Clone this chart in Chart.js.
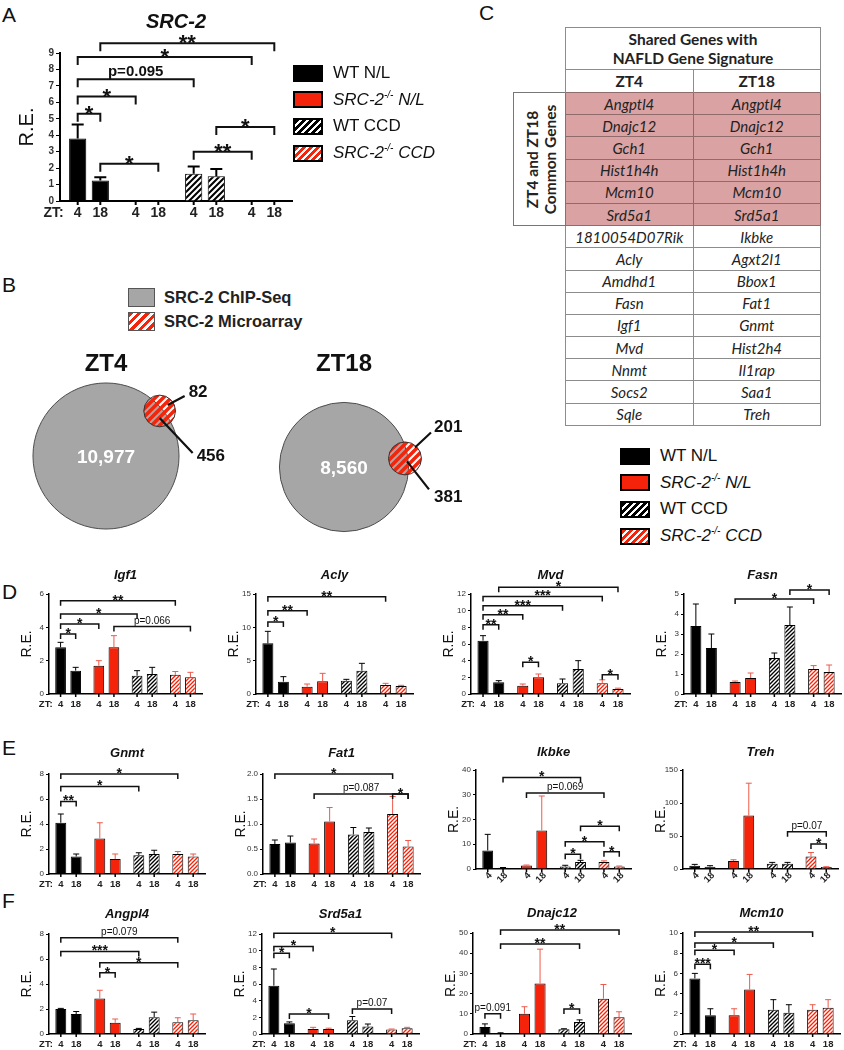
<!DOCTYPE html>
<html>
<head>
<meta charset="utf-8">
<script src="https://cdn.jsdelivr.net/npm/chart.js@4.4.1/dist/chart.umd.min.js"></script>
<style>
body { margin: 0; background: #fff; width: 844px; height: 1050px; position: relative; overflow: hidden; font-family: "Liberation Sans", Arial, sans-serif; color: #111; }
canvas { position: absolute; }
.letter { position: absolute; font-size: 21px; line-height: 1; }
.leg { position: absolute; font-size: 17px; color: #111; }
.leg .row { height: 26.6px; display: flex; align-items: center; white-space: nowrap; }
.sw { width: 26px; height: 13px; border: 2px solid #000; margin-right: 10px; flex: none; }
.leg sup { font-size: 10px; vertical-align: 7px; line-height: 0; }
#venn-leg { position: absolute; left: 128px; top: 285px; font-size: 16.5px; font-weight: bold; color: #222; }
#venn-leg .row { height: 24px; display: flex; align-items: center; }
#venn-leg .sw { width: 25px; height: 17px; border: 1px solid #555; margin-right: 9px; }
#genes { position: absolute; left: 565px; top: 27px; width: 256px; border-collapse: collapse; table-layout: fixed; font-family: Lato, sans-serif; font-size: 15px; color: #222; }
#genes td { border: 1px solid #8c8c8c; padding: 0; text-align: center; font-style: italic; line-height: 18px; }
#genes tr.g { height: 22.2px; }
#genes tr.pink td { background: #daa2a2; border-color: #8f6b6b; }
#genes tr.head td { font-weight: bold; font-style: normal; height: 41px; line-height: 19px; font-size: 15.5px; }
#genes tr.zt td { font-weight: bold; font-style: normal; height: 22px; font-size: 15.5px; border-bottom: none; }
#side { position: absolute; left: 513px; top: 92px; width: 51px; height: 132px; border: 1px solid #777; border-right: none; }
#side div { position: absolute; width: 132px; height: 51px; left: -40.5px; top: 40.5px; transform: rotate(-90deg); display: flex; flex-direction: column; justify-content: center; align-items: center; font-family: Lato, sans-serif; font-weight: bold; font-size: 15.5px; line-height: 18px; color: #222; }
</style>
</head>
<body>
<div class="letter" style="left:2px;top:4px">A</div>
<div class="letter" style="left:2px;top:274px">B</div>
<div class="letter" style="left:479px;top:2px">C</div>
<div class="letter" style="left:2px;top:581px">D</div>
<div class="letter" style="left:2px;top:737px">E</div>
<div class="letter" style="left:2px;top:890px">F</div>
<div id="venn-leg"></div>
<div id="side"><div><span>ZT4 and ZT18</span><span>Common Genes</span></div></div>
<script>
const FONT = '"Liberation Sans", Arial, sans-serif';
const RED = '#f5230a';

// groups and time points
const genotype = ['WT', 'SRC-2', 'WT', 'SRC-2'];
const diet = ['N/L', 'N/L', 'CCD', 'CCD'];
const ztTicks = ['4', '18'];
const ztAxisLabel = 'ZT:';

// bar values, order: WT N/L 4,18 | SRC-2-/- N/L 4,18 | WT CCD 4,18 | SRC-2-/- CCD 4,18
const src2Mean = [3.8, 1.25, 0, 0, 1.65, 1.5, 0, 0];
const src2Sem = [0.85, 0.2, 0, 0, 0.45, 0.45, 0, 0];
const src2Sig = [[0, 1, 5.3, '*'], [0, 2, 6.35, '*'], [0, 4, 7.4, 'p=0.095'], [0, 6, 8.75, '*'], [1, 7, 9.6, '**'], [1, 3, 2.27, '*'], [4, 6, 3.0, '**'], [5, 7, 4.5, '*']];

const igf1Mean = [2.8, 1.4, 1.7, 2.8, 1.1, 1.2, 1.15, 1.0];
const igf1Sem = [0.3, 0.2, 0.3, 0.7, 0.3, 0.4, 0.2, 0.3];
const igf1Sig = [[0, 1, 3.6, '*'], [0, 2, 4.2, '*'], [0, 4, 4.8, '*'], [0, 6, 5.6, '**'], [3, 7, 4.05, 'p=0.066']];

const aclyMean = [7.6, 1.85, 1.1, 1.9, 2.0, 3.5, 1.35, 1.2];
const aclySem = [1.8, 0.75, 0.4, 1.2, 0.2, 1.1, 0.25, 0.1];
const aclySig = [[0, 1, 10.8, '*'], [0, 2, 12.5, '**'], [0, 6, 14.6, '**']];

const mvdMean = [6.4, 1.4, 1.0, 2.0, 1.3, 3.0, 1.3, 0.6];
const mvdSem = [0.6, 0.2, 0.2, 0.4, 0.5, 1.0, 0.4, 0.1];
const mvdSig = [[0, 1, 8.3, '**'], [0, 2, 9.5, '**'], [0, 4, 10.6, '***'], [0, 6, 11.7, '***'], [1, 7, 12.8, '*'], [2, 3, 3.8, '*'], [6, 7, 2.3, '*']];

const fasnMean = [3.4, 2.3, 0.6, 0.8, 1.8, 3.45, 1.25, 1.1];
const fasnSem = [1.1, 0.7, 0.05, 0.25, 0.25, 0.9, 0.17, 0.35];
const fasnSig = [[2, 6, 4.75, '*'], [5, 7, 5.2, '*']];

const gnmtMean = [4.1, 1.4, 2.85, 1.2, 1.5, 1.6, 1.6, 1.4];
const gnmtSem = [0.7, 0.2, 1.25, 0.4, 0.2, 0.3, 0.2, 0.2];
const gnmtSig = [[0, 1, 5.8, '**'], [0, 4, 7.0, '*'], [0, 6, 8.0, '*']];

const fat1Mean = [0.6, 0.63, 0.61, 1.05, 0.79, 0.84, 1.2, 0.55];
const fat1Sem = [0.08, 0.13, 0.09, 0.28, 0.14, 0.08, 0.35, 0.12];
const fat1Sig = [[0, 6, 2.0, '*'], [2, 7, 1.6, 'p=0.087'], [6, 7, 1.6, '*']];

const ikbkeMean = [7.5, 0.5, 1.4, 15.6, 1.0, 2.8, 2.8, 1.0];
const ikbkeSem = [6.5, 0.1, 0.2, 13.9, 0.5, 0.7, 0.5, 0.2];
const ikbkeSig = [[1, 5, 37, '*'], [2, 6, 30.7, 'p=0.069'], [5, 7, 17.3, '*'], [4, 6, 11, '*'], [4, 5, 6, '*'], [6, 7, 7, '*']];

const trehMean = [5, 3.5, 12, 81, 8, 8, 19, 3];
const trehSem = [2, 1.5, 2, 49, 2, 2, 6, 0.5];
const trehSig = [[5, 7, 56.5, 'p=0.07'], [6, 7, 38, '*']];

const angpl4Mean = [2.0, 1.6, 2.85, 0.9, 0.4, 1.35, 0.95, 1.1];
const angpl4Sem = [0.05, 0.2, 0.65, 0.3, 0.05, 0.4, 0.35, 0.5];
const angpl4Sig = [[0, 6, 7.7, 'p=0.079'], [0, 4, 6.6, '***'], [2, 6, 5.7, '*'], [2, 3, 4.9, '*']];

const srd5a1Mean = [5.8, 1.3, 0.6, 0.6, 1.65, 0.9, 0.55, 0.7];
const srd5a1Sem = [2.0, 0.15, 0.2, 0.1, 0.45, 0.3, 0.05, 0.1];
const srd5a1Sig = [[0, 1, 9.7, '*'], [0, 2, 10.5, '*'], [0, 6, 12.1, '*'], [1, 3, 2.4, '*'], [4, 6, 3.0, 'p=0.07']];

const dnajc12Mean = [3.5, 0.5, 10, 25, 2.3, 6, 17.5, 8.3];
const dnajc12Sem = [1.5, 0.1, 3.5, 17, 0.3, 1, 7, 2.7];
const dnajc12Sig = [[1, 7, 51.5, '**'], [1, 5, 44.5, '**'], [4, 5, 12.4, '*'], [0, 1, 10, 'p=0.091']];

const mcm10Mean = [5.5, 1.85, 1.85, 4.4, 2.4, 2.1, 2.4, 2.6];
const mcm10Sem = [0.5, 0.65, 0.65, 1.5, 1.0, 0.8, 0.5, 0.8];
const mcm10Sig = [[0, 1, 6.9, '***'], [0, 2, 8.3, '*'], [0, 4, 9.0, '*'], [0, 6, 10.1, '**']];

// Venn counts
const vennSets = ['ZT4', 'ZT18'];
const chipOnly = [10977, 8560];
const overlapN = [456, 381];
const arrayOnly = [82, 201];
const vennLegend = ['SRC-2 ChIP-Seq', 'SRC-2 Microarray'];

// table genes
const commonGenes = ['Angptl4', 'Dnajc12', 'Gch1', 'Hist1h4h', 'Mcm10', 'Srd5a1'];
const zt4Genes = ['1810054D07Rik', 'Acly', 'Amdhd1', 'Fasn', 'Igf1', 'Mvd', 'Nnmt', 'Socs2', 'Sqle'];
const zt18Genes = ['Ikbke', 'Agxt2l1', 'Bbox1', 'Fat1', 'Gnmt', 'Hist2h4', 'Il1rap', 'Saa1', 'Treh'];

Chart.defaults.font.family = FONT;
Chart.defaults.color = '#222';

function hatch(bg, fg, size, lw) {
	const c = document.createElement('canvas');
	c.width = c.height = size;
	const x = c.getContext('2d');
	if (bg) { x.fillStyle = bg; x.fillRect(0, 0, size, size); }
	x.strokeStyle = fg; x.lineWidth = lw;
	x.beginPath();
	x.moveTo(-1, size + 1); x.lineTo(size + 1, -1);
	x.moveTo(-1, 1); x.lineTo(1, -1);
	x.moveTo(size - 1, size + 1); x.lineTo(size + 1, size - 1);
	x.stroke();
	return x.createPattern(c, 'repeat');
}

const big = { yw: 45, topSpace: 53, bottomSpace: 24, padR: 8, titleFs: 20, reFs: 20, reOff: 33, tickFs: 10, tickW: 'bold', ztFs: 14, ztGap: 12.5, ztOff: 14, axisW: 2, errW: 2, capW: 6, brW: 2, drop: 8, starFs: 22, pFs: 15, pW: 'bold ', hatch: [6, 2.2], cat: 0.78, bar: 0.76, tickLen: 4 };
const small = { yw: 40, topSpace: 30, bottomSpace: 22, padR: 8, titleFs: 13, reFs: 14, reOff: 22, tickFs: 8, tickW: 'normal', ztFs: 9.5, ztGap: 10, ztOff: 8, axisW: 1.5, errW: 1, capW: 3, brW: 1.5, drop: 5, starFs: 14, pFs: 10, pW: '', hatch: [4, 1.5], cat: 0.79, bar: 0.71, tickLen: 3 };
const errColor = ['#000', '#ee5a4c', '#000', '#ee5a4c'];

const panels = [
	{ s: big, title: 'SRC-2', mean: src2Mean, sem: src2Sem, sig: src2Sig, max: 9, step: 1, axisX: 60, top: 53, bottom: 201.5, w: 232, titleY: 22 },
	{ s: small, title: 'Igf1', mean: igf1Mean, sem: igf1Sem, sig: igf1Sig, max: 6, step: 2, axisX: 49, top: 594, bottom: 694, w: 153, titleY: 575 },
	{ s: small, title: 'Acly', mean: aclyMean, sem: aclySem, sig: aclySig, max: 15, step: 5, axisX: 256, top: 594, bottom: 694, w: 157, titleY: 575 },
	{ s: small, title: 'Mvd', mean: mvdMean, sem: mvdSem, sig: mvdSig, max: 12, step: 2, axisX: 471, top: 594, bottom: 694, w: 159, titleY: 575 },
	{ s: small, title: 'Fasn', mean: fasnMean, sem: fasnSem, sig: fasnSig, max: 5, step: 1, axisX: 684, top: 594, bottom: 694, w: 157, titleY: 575 },
	{ s: small, title: 'Gnmt', mean: gnmtMean, sem: gnmtSem, sig: gnmtSig, max: 8, step: 2, axisX: 49, top: 774, bottom: 874, w: 156, titleY: 753 },
	{ s: small, title: 'Fat1', mean: fat1Mean, sem: fat1Sem, sig: fat1Sig, max: 2, step: 0.5, dec: 1, axisX: 263, top: 774, bottom: 874, w: 157, titleY: 753 },
	{ s: small, title: 'Ikbke', mean: ikbkeMean, sem: ikbkeSem, sig: ikbkeSig, max: 40, step: 10, axisX: 476, top: 770, bottom: 869, w: 155, titleY: 752, rot: true },
	{ s: small, title: 'Treh', mean: trehMean, sem: trehSem, sig: trehSig, max: 150, step: 50, axisX: 683, top: 770, bottom: 869, w: 155, titleY: 752, rot: true },
	{ s: small, title: 'Angpl4', mean: angpl4Mean, sem: angpl4Sem, sig: angpl4Sig, max: 8, step: 2, axisX: 49, top: 934, bottom: 1034, w: 156, titleY: 914 },
	{ s: small, title: 'Srd5a1', mean: srd5a1Mean, sem: srd5a1Sem, sig: srd5a1Sig, max: 12, step: 2, axisX: 262, top: 934, bottom: 1034, w: 157, titleY: 914 },
	{ s: small, title: 'Dnajc12', mean: dnajc12Mean, sem: dnajc12Sem, sig: dnajc12Sig, max: 50, step: 10, axisX: 473, top: 933, bottom: 1034, w: 158, titleY: 913 },
	{ s: small, title: 'Mcm10', mean: mcm10Mean, sem: mcm10Sem, sig: mcm10Sig, max: 10, step: 2, axisX: 683, top: 933, bottom: 1034, w: 157, titleY: 913 },
];

function annot(p) {
	const s = p.s;
	return {
		id: 'annot',
		afterDatasetsDraw(chart) {
			const ctx = chart.ctx, ys = chart.scales.y, base = chart.chartArea.bottom;
			const xs = [];
			for (let k = 0; k < 8; k++) xs.push(chart.getDatasetMeta(k % 2).data[k >> 1].x);
			ctx.save();
			ctx.lineWidth = s.errW;
			p.sem.forEach((e, k) => {
				if (!e) return;
				const y0 = ys.getPixelForValue(p.mean[k]), y1 = ys.getPixelForValue(p.mean[k] + e);
				ctx.strokeStyle = errColor[k >> 1];
				ctx.beginPath();
				ctx.moveTo(xs[k], y0); ctx.lineTo(xs[k], y1);
				ctx.moveTo(xs[k] - s.capW, y1); ctx.lineTo(xs[k] + s.capW, y1);
				ctx.stroke();
			});
			ctx.strokeStyle = '#111'; ctx.fillStyle = '#111'; ctx.lineWidth = s.brW;
			ctx.textAlign = 'center'; ctx.textBaseline = 'alphabetic';
			p.sig.forEach(([a, b, v, lab]) => {
				const y = ys.getPixelForValue(v);
				ctx.beginPath();
				ctx.moveTo(xs[a], y + s.drop); ctx.lineTo(xs[a], y); ctx.lineTo(xs[b], y); ctx.lineTo(xs[b], y + s.drop);
				ctx.stroke();
				const star = lab[0] === '*';
				ctx.font = star ? `bold ${s.starFs}px ${FONT}` : `${s.pW}${s.pFs}px ${FONT}`;
				ctx.fillText(lab, (xs[a] + xs[b]) / 2, star ? y - 2 + 0.42 * s.starFs : y - 3);
			});
			ctx.strokeStyle = '#000'; ctx.lineWidth = s.axisW; ctx.fillStyle = '#222';
			ctx.font = `bold ${s.ztFs}px ${FONT}`;
			xs.forEach((x, k) => {
				ctx.beginPath(); ctx.moveTo(x, base); ctx.lineTo(x, base + s.tickLen); ctx.stroke();
				const lab = ztTicks[k % 2];
				if (p.rot) {
					ctx.save();
					ctx.translate(x + 3, base + 5);
					ctx.rotate(-Math.PI / 4);
					ctx.textAlign = 'right'; ctx.textBaseline = 'middle';
					ctx.fillText(lab, 0, 0);
					ctx.restore();
				} else {
					ctx.textAlign = 'center'; ctx.textBaseline = 'middle';
					ctx.fillText(lab, x, base + s.ztGap);
				}
			});
			if (!p.rot) {
				ctx.textAlign = 'right'; ctx.textBaseline = 'middle';
				ctx.fillText(ztAxisLabel, xs[0] - s.ztOff, base + s.ztGap);
			}
			ctx.restore();
		}
	};
}

function barPanel(p) {
	const s = p.s;
	const cv = document.createElement('canvas');
	cv.width = s.yw + p.w + s.padR;
	cv.height = s.topSpace + (p.bottom - p.top) + s.bottomSpace;
	cv.style.left = (p.axisX - s.yw) + 'px';
	cv.style.top = (p.top - s.topSpace) + 'px';
	document.body.appendChild(cv);
	const fills = ['#000', RED, hatch('#000', '#fff', s.hatch[0], s.hatch[1]), hatch(RED, '#fff', s.hatch[0], s.hatch[1])];
	const pt = s.topSpace - (p.top - p.titleY) - s.titleFs * 0.6;
	const pb = s.topSpace - pt - s.titleFs * 1.2;
	const labels = genotype.map((g, i) => g + ' ' + diet[i]);
	new Chart(cv, {
		type: 'bar',
		data: {
			labels: labels,
			datasets: ztTicks.map((z, t) => ({
				label: 'ZT' + z,
				data: [p.mean[t], p.mean[2 + t], p.mean[4 + t], p.mean[6 + t]],
				backgroundColor: fills,
				borderColor: '#000',
				borderWidth: 1,
				categoryPercentage: s.cat,
				barPercentage: s.bar,
			})),
		},
		options: {
			responsive: false,
			animation: false,
			events: [],
			layout: { padding: { left: 0, right: s.padR, top: 0, bottom: s.bottomSpace } },
			plugins: {
				legend: { display: false },
				tooltip: { enabled: false },
				title: {
					display: true, text: p.title, fullSize: false, color: '#111',
					font: { size: s.titleFs, style: 'italic', weight: 'bold', lineHeight: 1.2 },
					padding: { top: pt, bottom: pb },
				},
			},
			scales: {
				x: {
					grid: { display: false },
					ticks: { display: false },
					border: { color: '#000', width: s.axisW },
					afterFit: sc => { sc.height = 0; },
				},
				y: {
					min: 0, max: p.max,
					ticks: {
						stepSize: p.step, color: '#333', padding: 2,
						font: { size: s.tickFs, weight: s.tickW },
						callback: v => p.dec ? v.toFixed(p.dec) : v,
					},
					grid: { drawOnChartArea: false, color: '#000', lineWidth: 1, tickLength: s.tickLen },
					border: { color: '#000', width: s.axisW },
					title: {
						display: true, text: 'R.E.', color: '#111',
						font: { size: s.reFs, lineHeight: 1.2 },
						padding: { top: s.yw - s.reOff - s.reFs * 0.6, bottom: 0 },
					},
					afterFit: sc => { sc.width = s.yw; },
				},
			},
		},
		plugins: [annot(p)],
	});
}

panels.forEach(barPanel);

// legends
function legend(left, top) {
	const box = document.createElement('div');
	box.className = 'leg';
	box.style.left = left + 'px'; box.style.top = top + 'px';
	const sw = ['#000', RED,
		'repeating-linear-gradient(135deg, #000 0 3px, #fff 3px 5px)',
		'repeating-linear-gradient(135deg, ' + RED + ' 0 3px, #fff 3px 5px)'];
	genotype.forEach((g, i) => {
		const row = document.createElement('div'); row.className = 'row';
		const s = document.createElement('span'); s.className = 'sw'; s.style.background = sw[i];
		row.appendChild(s);
		const t = document.createElement('span');
		if (g === 'WT') t.textContent = g + ' ' + diet[i];
		else { t.style.fontStyle = 'italic'; t.innerHTML = g + '<sup>-/-</sup> ' + diet[i]; }
		row.appendChild(t);
		box.appendChild(row);
	});
	document.body.appendChild(box);
}
legend(293, 60);
legend(620, 443);

// Venn legend
const vl = document.getElementById('venn-leg');
vennLegend.forEach((txt, i) => {
	const row = document.createElement('div'); row.className = 'row';
	const s = document.createElement('span'); s.className = 'sw';
	s.style.background = i ? 'repeating-linear-gradient(135deg, ' + RED + ' 0 3px, #fff 3px 6px)' : '#a6a6a6';
	row.appendChild(s);
	row.appendChild(document.createTextNode(txt));
	vl.appendChild(row);
});

// table
const tbl = document.createElement('table'); tbl.id = 'genes';
function addRow(cls, cells) {
	const tr = document.createElement('tr'); tr.className = cls;
	cells.forEach(c => {
		const td = document.createElement('td');
		if (typeof c === 'object') { td.colSpan = c.span; td.innerHTML = c.html; } else td.textContent = c;
		tr.appendChild(td);
	});
	tbl.appendChild(tr);
}
addRow('head', [{ span: 2, html: 'Shared Genes with<br>NAFLD Gene Signature' }]);
addRow('zt', vennSets);
commonGenes.forEach(g => addRow('g pink', [g, g]));
zt4Genes.forEach((g, i) => addRow('g', [g, zt18Genes[i]]));
document.body.appendChild(tbl);

// Venn diagrams
const vennLayout = [
	{ cx: 106, cy: 456, ang: 40, l1: [8, -6, 25, -15], t1: [29, -19], l2: [0, 7, 33, 42], t2: [37, 45] },
	{ cx: 344, cy: 467, ang: 8, l1: [10, -11, 26, -26], t1: [29, -31], l2: [2, 3, 24, 31], t2: [29, 39] },
];
const vennK = 0.683;
const VX = 0, VY = 345, VW = 480, VH = 195;
const vcv = document.createElement('canvas');
vcv.width = VW; vcv.height = VH;
vcv.style.left = VX + 'px'; vcv.style.top = VY + 'px';
document.body.appendChild(vcv);
const bigPts = vennLayout.map((L, i) => ({ x: L.cx, y: L.cy, r: vennK * Math.sqrt(chipOnly[i] + overlapN[i]) }));
const smallPts = vennLayout.map((L, i) => {
	const R = bigPts[i].r - 3, a = L.ang * Math.PI / 180;
	return { x: L.cx + R * Math.cos(a), y: L.cy - R * Math.sin(a), r: vennK * Math.sqrt(overlapN[i] + arrayOnly[i]) };
});
new Chart(vcv, {
	type: 'bubble',
	data: {
		datasets: [
			{ label: vennLegend[0], data: bigPts, backgroundColor: '#a6a6a6', borderColor: '#4d4d4d', borderWidth: 1, clip: false, order: 2 },
			{ label: vennLegend[1], data: smallPts, backgroundColor: hatch(null, RED, 8, 3.6), borderColor: '#333', borderWidth: 1, clip: false, order: 1 },
		],
	},
	options: {
		responsive: false, animation: false, events: [],
		layout: { padding: 0, autoPadding: false },
		plugins: { legend: { display: false }, tooltip: { enabled: false } },
		scales: {
			x: { display: false, min: VX, max: VX + VW },
			y: { display: false, min: VY, max: VY + VH, reverse: true },
		},
	},
	plugins: [{
		id: 'vennText',
		afterDatasetsDraw(chart) {
			const ctx = chart.ctx, sy = chart.scales.y;
			ctx.save();
			vennLayout.forEach((L, i) => {
				const b = chart.getDatasetMeta(0).data[i], m = chart.getDatasetMeta(1).data[i];
				ctx.fillStyle = '#111'; ctx.textAlign = 'center'; ctx.textBaseline = 'middle';
				ctx.font = `bold 24px ${FONT}`;
				ctx.fillText(vennSets[i], b.x, sy.getPixelForValue(364));
				ctx.fillStyle = '#fff'; ctx.font = `bold 19px ${FONT}`;
				ctx.fillText(chipOnly[i].toLocaleString('en-US'), b.x, b.y + 2);
				ctx.strokeStyle = '#111'; ctx.lineWidth = 2.2;
				ctx.beginPath();
				ctx.moveTo(m.x + L.l1[0], m.y + L.l1[1]); ctx.lineTo(m.x + L.l1[2], m.y + L.l1[3]);
				ctx.moveTo(m.x + L.l2[0], m.y + L.l2[1]); ctx.lineTo(m.x + L.l2[2], m.y + L.l2[3]);
				ctx.stroke();
				ctx.fillStyle = '#111'; ctx.textAlign = 'left'; ctx.font = `bold 17px ${FONT}`;
				ctx.fillText(String(arrayOnly[i]), m.x + L.t1[0], m.y + L.t1[1]);
				ctx.fillText(String(overlapN[i]), m.x + L.t2[0], m.y + L.t2[1]);
			});
			ctx.restore();
		}
	}],
});
</script>
</body>
</html>
